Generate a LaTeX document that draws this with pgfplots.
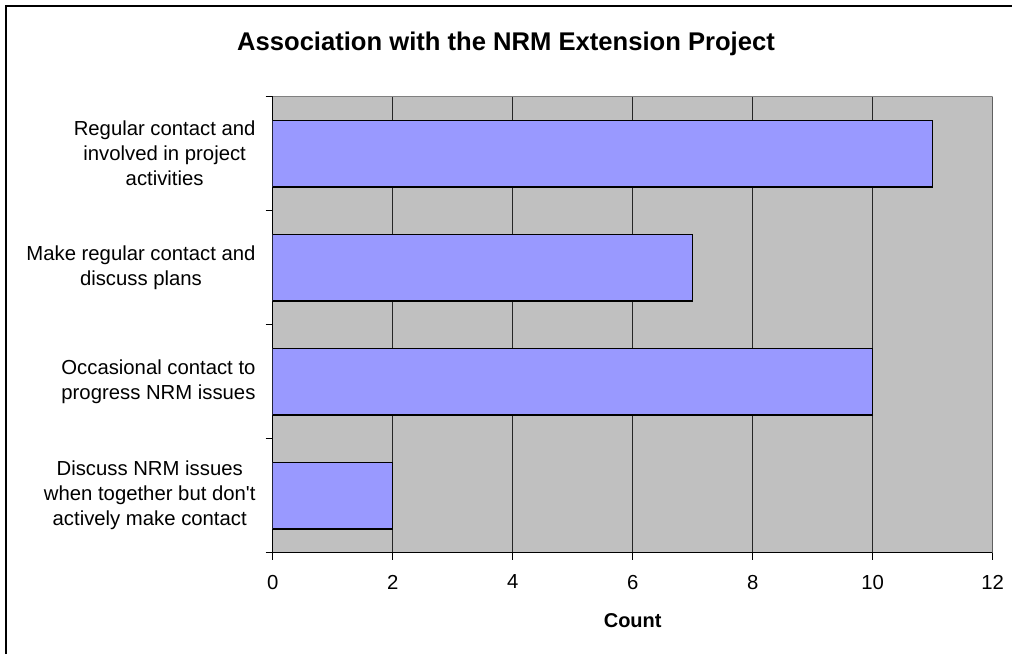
\documentclass[border=0pt]{standalone}
\usepackage{fontspec}
\setmainfont{Liberation Sans}
\usepackage{pgfplots}
\pgfplotsset{compat=1.18}
\definecolor{barblue}{HTML}{9999FF}
\definecolor{plotgray}{HTML}{C0C0C0}
\definecolor{edgegray}{HTML}{808080}
\begin{document}
\begin{tikzpicture}[x=1pt,y=1pt]
\useasboundingbox (-272.7,-101.3) rectangle (739.3,552.7);
\draw[line width=2pt] (-266.7,-101.3) -- (-266.7,546.7) -- (739.3,546.7);
\begin{axis}[
  at={(0,0)}, anchor=south west,
  scale only axis, width=720pt, height=456pt,
  xbar, bar width=66.7pt,
  xmin=0, xmax=12, ymin=-0.5, ymax=3.5,
  xtick={0,2,...,12},
  ytick={-0.5,0.5,1.5,2.5,3.5},
  yticklabels={},
  extra y ticks={0,1,2,3},
  extra y tick labels={{Discuss NRM issues\\when together but don\textquotesingle t\\actively make contact},
               {Occasional contact to\\progress NRM issues},
               {Make regular contact and\\discuss plans},
               {Regular contact and\\involved in project\\activities}},
  extra y tick style={major tick length=0pt, tick style={draw=none}},
  axis x line*=bottom, axis y line*=left,
  axis line style={black, line width=1pt, -},
  tick align=outside,
  major tick length=7pt,
  every tick/.style={black, line width=0.8pt},
  xmajorgrids,
  grid style={black!85, line width=0.7pt},
  axis background/.style={fill=plotgray},
  /pgf/number format/assume math mode=true,
  ticklabel style={font=\fontsize{20.3}{25}\selectfont},
  yticklabel style={align=center, inner sep=0pt, xshift=-17pt},
  xticklabel style={inner sep=0pt, yshift=-15pt},
  xlabel={\textbf{Count}},
  xlabel style={font=\fontsize{20}{24}\selectfont, inner sep=0pt, yshift=-24pt},
]
\addplot[fill=barblue, draw=black, line width=1.2pt] coordinates {(2,0) (10,1) (7,2) (11,3)};
\draw[edgegray, line width=1pt] (rel axis cs:0,1) -- (rel axis cs:1,1) -- (rel axis cs:1,0);
\end{axis}
\node[font=\fontsize{25.6}{30}\selectfont\bfseries] at (233.3,508.7) {Association with the NRM Extension Project};
\end{tikzpicture}
\end{document}
